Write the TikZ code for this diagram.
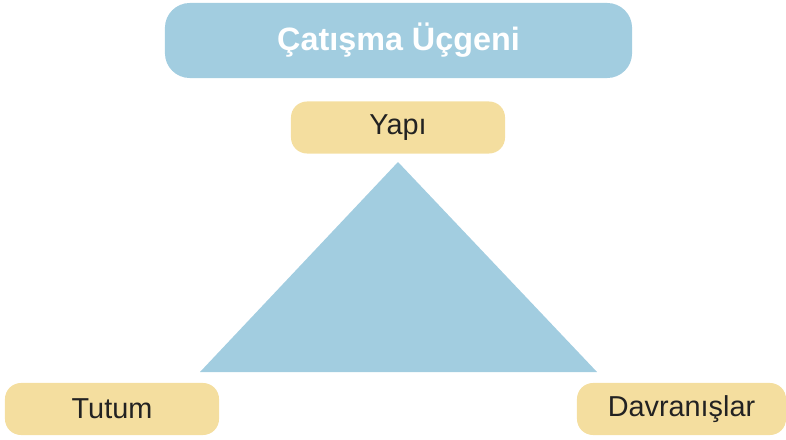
\documentclass[tikz,border=0pt]{standalone}
\usepackage{fontspec}
\setmainfont{Liberation Sans}
\usetikzlibrary{positioning}

\definecolor{mavi}{HTML}{A2CDE0}
\definecolor{sari}{HTML}{F4DE9F}
\definecolor{yazi}{HTML}{222222}

\begin{document}
\begin{tikzpicture}[
    x=0.025cm, y=-0.025cm,
    baslik/.style={
        fill=mavi,
        rounded corners=0.62cm,
        minimum width=11.675cm,
        minimum height=1.875cm,
        text centered,
        text=white,
        font=\fontsize{23}{27}\selectfont\bfseries
    },
    kavram/.style={
        fill=sari,
        rounded corners=0.4cm,
        minimum width=5.35cm,
        minimum height=1.3cm,
        text centered,
        text=yazi,
        font=\fontsize{20.5}{24}\selectfont
    }
]
\useasboundingbox (0,0) rectangle (786,439);

% --- Title ---
\node[baslik] (baslik) at (398.5,40.5) {Çatışma Üçgeni};

% --- Triangle ---
\coordinate (tepe) at (398,162);
\coordinate (solalt) at (200,372);
\coordinate (sagalt) at (597,372);
\fill[mavi] (tepe) -- (sagalt) -- (solalt) -- cycle;

% --- Corners of the triangle ---
\node[kavram] (yapi) at (398,127.5) {Yapı};
\node[kavram] (tutum) at (112,409) {Tutum};
\node[kavram, minimum width=5.225cm] (davranis) at (681.5,409) {Davranışlar};

\end{tikzpicture}
\end{document}
